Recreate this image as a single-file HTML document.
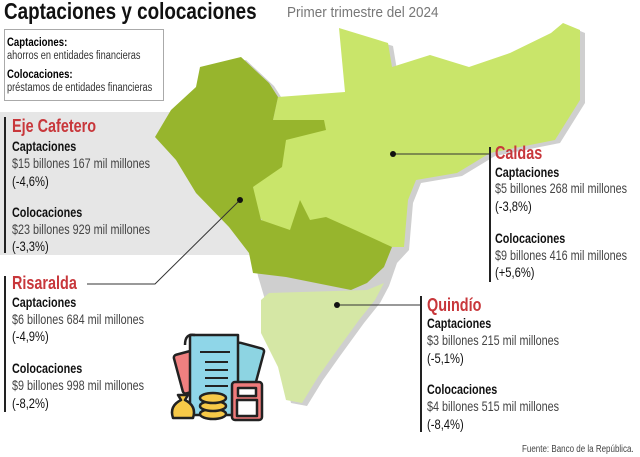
<!DOCTYPE html>
<html><head><meta charset="utf-8"><style>
body{margin:0;width:640px;height:457px;background:#fff;position:relative;overflow:hidden;font-family:"Liberation Sans",sans-serif;}
.a{position:absolute;white-space:nowrap;transform-origin:0 0;transform:scaleX(0.8);line-height:1;}
.h{color:#c8373b;font-weight:bold;font-size:18px;}
.b{font-weight:bold;font-size:13.5px;color:#111;}
.v{font-size:13.5px;color:#444;}
.p{font-size:14px;color:#111;}
.bar{position:absolute;width:2px;background:#222;}
</style></head><body>
<div style="position:absolute;left:0;top:112px;width:260px;height:143px;background:#e6e6e6"></div>
<svg style="position:absolute;left:0;top:0" width="640" height="457">
<g transform="translate(5,3)" fill="#cfcfcf">
<polygon points="339,28 388,43 392,67 430,55 469,67 510,53 551,33 563,23 580,30 580,100 555,140 490,153 457,173 416,180 408,200 404,247 392,260 384,283 375,300 359,320 335,353 318,377 302,403 286,400 278,367 261,333 261,300 253,273 249,253 229,227 196,193 176,160 155,137 171,110 196,87 200,67 241,57 269,83 278,97 345,90"/>
</g>
<polygon fill="#c9e56a" points="339,28 388,43 392,67 430,55 469,67 510,53 551,33 563,23 580,30 580,100 555,140 490,153 457,173 416,180 408,200 404,247 392,247 300,240 269,230 257,213 253,187 260,150 273,120 278,97 345,92"/>
<polygon fill="#97b52d" points="200,67 241,57 269,83 278,97 273,120 324,120 326,130 286,140 282,167 253,187 261,220 290,230 300,200 310,220 326,217 355,230 392,247 384,267 367,283 351,290 286,277 253,273 249,253 229,227 196,193 176,160 155,137 171,110 196,87"/>
<polygon fill="#d5e7a5" points="269,293 367,290 384,283 375,300 359,320 335,353 318,377 302,403 286,400 278,367 261,333 261,300"/>
<polyline fill="none" stroke="#333" stroke-width="1" points="87,284 155,284 240,200"/>
<line x1="393" y1="154" x2="489" y2="154" stroke="#333"/>
<line x1="337" y1="305" x2="420" y2="305" stroke="#333"/>
<circle cx="240" cy="200" r="3" fill="#111"/>
<circle cx="393" cy="154" r="3" fill="#111"/>
<circle cx="337" cy="305" r="3" fill="#111"/>
<g stroke="#222" stroke-width="2.5" stroke-linejoin="round">
<rect x="232" y="345" width="28" height="40" rx="3" fill="#8dd4e2" transform="rotate(15 246 365)"/>
<rect x="178" y="352" width="22" height="40" rx="3" fill="#f08080" transform="rotate(-15 189 372)"/>
<path d="M190 335 h48 v80 h-48 z" fill="#8fd6e8"/>
<path d="M185 345 q0-12 10-10" fill="none"/>
<g stroke-width="2"><line x1="200" y1="352" x2="230" y2="352"/><line x1="205" y1="362" x2="228" y2="362"/><line x1="205" y1="370" x2="228" y2="370"/><line x1="205" y1="378" x2="228" y2="378"/><line x1="205" y1="386" x2="228" y2="386"/></g>
<rect x="232" y="382" width="30" height="38" rx="3" fill="#f07b7b"/>
<rect x="238" y="388" width="18" height="8" fill="#fff"/>
<rect x="237" y="400" width="20" height="16" fill="#fff"/>
<path d="M178 395 l10 0 l-3 5 q12 6 8 18 h-20 q-4-12 8-18z" fill="#f7c948"/>
<ellipse cx="213" cy="414" rx="13" ry="5" fill="#f7c948"/>
<ellipse cx="213" cy="406" rx="13" ry="5" fill="#f7c948"/>
<ellipse cx="213" cy="398" rx="13" ry="5" fill="#f7c948"/>
</g>
</svg>
<div class="a" style="left:4px;top:0;font-size:23px;font-weight:bold;color:#111;transform:scaleX(0.82)">Captaciones y colocaciones</div>
<div class="a" style="left:287px;top:5px;font-size:15px;color:#777;transform:scaleX(0.9)">Primer trimestre del 2024</div>
<div style="position:absolute;left:4px;top:29px;width:158px;height:70px;border:1px solid #aaa;background:#fff"></div>
<div class="a" style="left:7px;top:36px;font-size:12px;font-weight:bold">Captaciones:</div>
<div class="a" style="left:7px;top:51px;font-size:11.5px;color:#333">ahorros en entidades financieras</div>
<div class="a" style="left:7px;top:68px;font-size:12px;font-weight:bold">Colocaciones:</div>
<div class="a" style="left:7px;top:83px;font-size:11.5px;color:#333">préstamos de entidades financieras</div>

<div class="bar" style="left:4px;top:117px;height:136px"></div>
<div class="a h" style="left:12px;top:117px">Eje Cafetero</div>
<div class="a b" style="left:12px;top:140px">Captaciones</div>
<div class="a v" style="left:12px;top:157px">$15 billones 167 mil millones</div>
<div class="a p" style="left:12px;top:174px">(-4,6%)</div>
<div class="a b" style="left:12px;top:206px">Colocaciones</div>
<div class="a v" style="left:12px;top:223px">$23 billones 929 mil millones</div>
<div class="a p" style="left:12px;top:239px">(-3,3%)</div>

<div class="bar" style="left:4px;top:276px;height:136px"></div>
<div class="a h" style="left:12px;top:274px">Risaralda</div>
<div class="a b" style="left:12px;top:296px">Captaciones</div>
<div class="a v" style="left:12px;top:313px">$6 billones 684 mil millones</div>
<div class="a p" style="left:12px;top:329px">(-4,9%)</div>
<div class="a b" style="left:12px;top:362px">Colocaciones</div>
<div class="a v" style="left:12px;top:379px">$9 billones 998 mil millones</div>
<div class="a p" style="left:12px;top:396px">(-8,2%)</div>

<div class="bar" style="left:489px;top:147px;height:135px"></div>
<div class="a h" style="left:495px;top:144px">Caldas</div>
<div class="a b" style="left:495px;top:166px">Captaciones</div>
<div class="a v" style="left:495px;top:182px">$5 billones 268 mil millones</div>
<div class="a p" style="left:495px;top:199px">(-3,8%)</div>
<div class="a b" style="left:495px;top:232px">Colocaciones</div>
<div class="a v" style="left:495px;top:249px">$9 billones 416 mil millones</div>
<div class="a p" style="left:495px;top:265px">(+5,6%)</div>

<div class="bar" style="left:420px;top:296px;height:136px"></div>
<div class="a h" style="left:427px;top:296px">Quindío</div>
<div class="a b" style="left:427px;top:317px">Captaciones</div>
<div class="a v" style="left:427px;top:334px">$3 billones 215 mil millones</div>
<div class="a p" style="left:427px;top:351px">(-5,1%)</div>
<div class="a b" style="left:427px;top:383px">Colocaciones</div>
<div class="a v" style="left:427px;top:400px">$4 billones 515 mil millones</div>
<div class="a p" style="left:427px;top:417px">(-8,4%)</div>

<div class="a" style="left:522px;top:445px;font-size:10px;color:#444">Fuente: Banco de la República.</div>
</body></html>
